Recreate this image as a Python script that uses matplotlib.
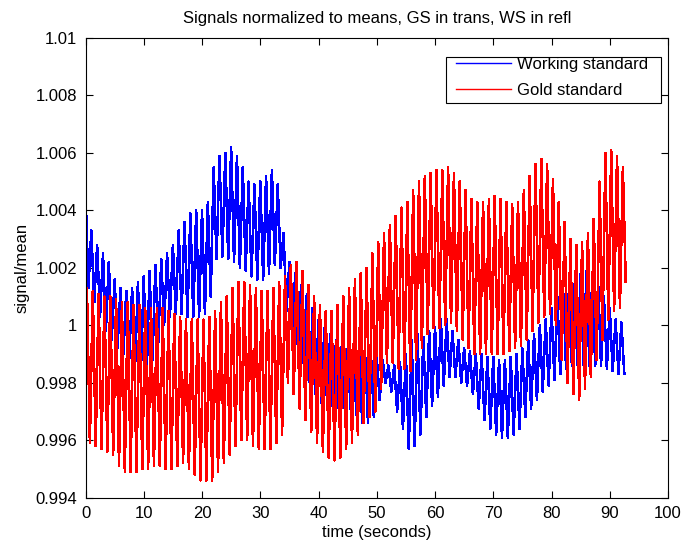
import numpy as np
import matplotlib
matplotlib.use("Agg")
import matplotlib.pyplot as plt
from matplotlib.patches import Rectangle

# ── Data ────────────────────────────────────────────────────────────────────
# One oscillation per second; the envelopes are given as deviation from 1
# in units of 1e-3 (signal/mean = 1 + value * 1e-3).
TIME_S = list(range(93))

WS_HI = [4.7, 3.3, 2.8, 2.5, 2.2, 1.6, 1.3, 1.2, 1.3, 1.5,
         1.7, 1.9, 2.1, 2.3, 2.5, 2.8, 3.3, 3.6, 3.9, 4.0,
         4.0, 4.3, 5.5, 5.9, 6.0, 6.2, 5.9, 5.5, 5.0, 4.9,
         5.0, 5.2, 5.4, 4.9, 3.2, 2.2, 1.8, 1.4, 1.1, 0.6,
         0.2, -0.1, -0.3, -0.5, -0.7, -0.8, -0.9, -1.0, -1.0, -1.0,
         -1.1, -1.2, -1.4, -1.4, -1.3, -1.0, -0.5, -0.3, -0.4, -0.2,
         -0.05, 0.2, 0.2, -0.2, -0.5, -0.8, -0.9, -1.0, -1.0, -1.1,
         -1.1, -1.2, -1.2, -1.1, -1.0, -0.8, -0.5, -0.3, 0.0, 0.2,
         0.6, 1.0, 1.2, 1.3, 1.5, 1.8, 1.9, 1.7, 1.5, 1.0,
         0.6, 0.2, 0.1]
WS_LO = [1.3, 0.8, 0.3, -0.2, -0.5, -0.8, -1.0, -1.2, -1.5, -1.7,
         -1.8, -1.2, -0.6, 0.0, 0.3, 0.4, 0.4, 0.3, 0.3, 0.3,
         0.4, 1.0, 2.3, 2.4, 2.3, 2.2, 2.0, 1.9, 1.7, 1.6,
         1.6, 1.8, 2.1, 2.0, 0.5, -0.3, -1.0, -1.5, -2.0, -2.4,
         -2.7, -2.9, -3.1, -3.0, -2.9, -2.9, -3.1, -3.4, -3.4, -3.2,
         -2.6, -2.0, -2.3, -3.0, -3.6, -4.3, -4.2, -3.8, -3.2, -2.8,
         -2.5, -2.1, -1.8, -1.8, -2.0, -2.1, -2.4, -2.9, -3.3, -3.6,
         -3.8, -3.9, -3.9, -3.8, -3.6, -3.2, -2.9, -2.6, -2.3, -2.1,
         -1.9, -1.7, -1.5, -1.4, -1.4, -1.4, -1.4, -1.4, -1.4, -1.5,
         -1.6, -1.7, -1.7]

GS_HI = [1.3, 1.2, 1.1, 1.0, 1.0, 0.9, 0.8, 0.8, 0.7, 0.7,
         0.6, 0.6, 0.6, 0.6, 0.5, 0.4, 0.3, 0.2, 0.2, 0.2,
         0.2, 0.3, 0.5, 0.8, 1.0, 1.3, 1.5, 1.5, 1.4, 1.3,
         1.2, 1.2, 1.3, 1.5, 1.7, 2.1, 2.2, 1.9, 1.4, 1.0,
         0.7, 0.5, 0.5, 0.7, 1.0, 1.3, 1.6, 1.8, 2.0, 2.5,
         2.9, 3.2, 3.5, 3.8, 4.1, 4.3, 4.7, 5.0, 5.2, 5.3,
         5.4, 5.4, 5.5, 5.3, 5.0, 4.7, 4.4, 4.3, 4.3, 4.4,
         4.5, 4.4, 4.3, 4.2, 4.3, 4.7, 5.2, 5.6, 5.8, 5.6,
         5.1, 4.3, 3.6, 3.0, 2.8, 2.9, 3.2, 3.7, 5.0, 6.0,
         6.1, 5.9, 5.5]
GS_LO = [-4.1, -4.2, -4.3, -4.4, -4.5, -4.9, -5.1, -5.1, -5.1, -5.0,
         -5.0, -4.9, -4.9, -5.0, -5.0, -4.9, -4.8, -5.0, -5.2, -5.4,
         -5.4, -5.4, -5.1, -4.8, -4.5, -4.2, -4.0, -4.0, -4.2, -4.3,
         -4.3, -4.3, -4.1, -3.8, -2.0, -2.4, -2.9, -3.3, -3.7, -4.1,
         -4.4, -4.6, -4.7, -4.6, -4.3, -4.1, -3.8, -3.4, -3.2, -3.0,
         -2.2, -1.3, -1.3, -1.5, -1.5, -1.6, -1.2, -0.8, -0.3, -0.1,
         -0.1, 0.0, 0.1, -0.2, -0.5, -0.8, -1.0, -1.0, -1.0, -1.0,
         -1.0, -1.0, -0.9, -0.8, -0.7, -0.5, -0.2, 0.1, 0.3, 0.4,
         0.0, -1.2, -2.0, -2.4, -2.6, -2.2, -1.8, -1.2, -0.5, 0.2,
         0.5, 0.6, 1.5]

TITLE = "Signals normalized to means, GS in trans, WS in refl"
X_TICKS = list(range(0, 101, 10))
Y_TICKS = [0.994, 0.996, 0.998, 1.0, 1.002, 1.004, 1.006, 1.008, 1.01]
Y_TICK_LABELS = ["0.994", "0.996", "0.998", "1", "1.002", "1.004",
                 "1.006", "1.008", "1.01"]

plt.rcParams["font.family"] = ["Liberation Sans", "DejaVu Sans"]
FS = 12
W_PX, H_PX = 683, 545


def chopped(times, hi, lo, phase=0.0):
    """Alternate between the upper and lower envelope, one cycle per sample."""
    t = np.asarray(times, dtype=float) + phase
    x = np.column_stack([t, t + 0.5]).ravel()
    y = 1.0 + np.column_stack([hi, lo]).ravel() * 1e-3
    return x, y


fig = plt.figure(figsize=(W_PX / 100, H_PX / 100), dpi=100)
ax = fig.add_axes([85.5 / W_PX, 1 - 497.7 / H_PX, 582.5 / W_PX, 459.7 / H_PX])

# MATLAB draws un-smoothed 1-px lines, so the strokes come out as stripes
xw, yw = chopped(TIME_S, WS_HI, WS_LO)
xg, yg = chopped(TIME_S, GS_HI, GS_LO, phase=0.25)
ax.plot(xw, yw, color=(0, 0, 1), lw=1.1, antialiased=False,
        label="Working standard")
ax.plot(xg, yg, color=(1, 0, 0), lw=1.1, antialiased=False,
        label="Gold standard")

ax.set_xlim(0, 100)
ax.set_ylim(0.994, 1.01)
ax.set_xticks(X_TICKS)
ax.set_yticks(Y_TICKS)
ax.set_yticklabels(Y_TICK_LABELS)
ax.tick_params(direction="in", length=5, width=0.8, top=True, right=True,
               labelsize=FS, pad=6, colors="black")
for sp in ax.spines.values():
    sp.set_linewidth(0.8)

ax.set_xlabel("time (seconds)", fontsize=FS, labelpad=3)
ax.set_ylabel("signal/mean", fontsize=FS, labelpad=4)
fig.text(0.5 * (85.5 + 668) / W_PX, 1 - 18 / H_PX, TITLE, fontsize=FS,
         ha="center", va="center")

# Legend: box drawn by hand so the padding matches the MATLAB legend
box = Rectangle((446 / W_PX, 1 - 103.3 / H_PX), 215 / W_PX, 46.6 / H_PX,
                transform=fig.transFigure, facecolor="white",
                edgecolor="black", lw=0.8, clip_on=False, zorder=4.5)
ax.add_patch(box)
leg = ax.legend(loc="upper left", bbox_to_anchor=(456 / W_PX, 1 - 57 / H_PX),
                bbox_transform=fig.transFigure, fontsize=FS, frameon=False,
                handlelength=3.3, handletextpad=0.35, labelspacing=0.65,
                borderpad=0, borderaxespad=0)
leg.set_zorder(5)
for line in leg.get_lines():
    line.set_linewidth(1.0)
    line.set_antialiased(True)

fig.savefig("out.png", dpi=100)
